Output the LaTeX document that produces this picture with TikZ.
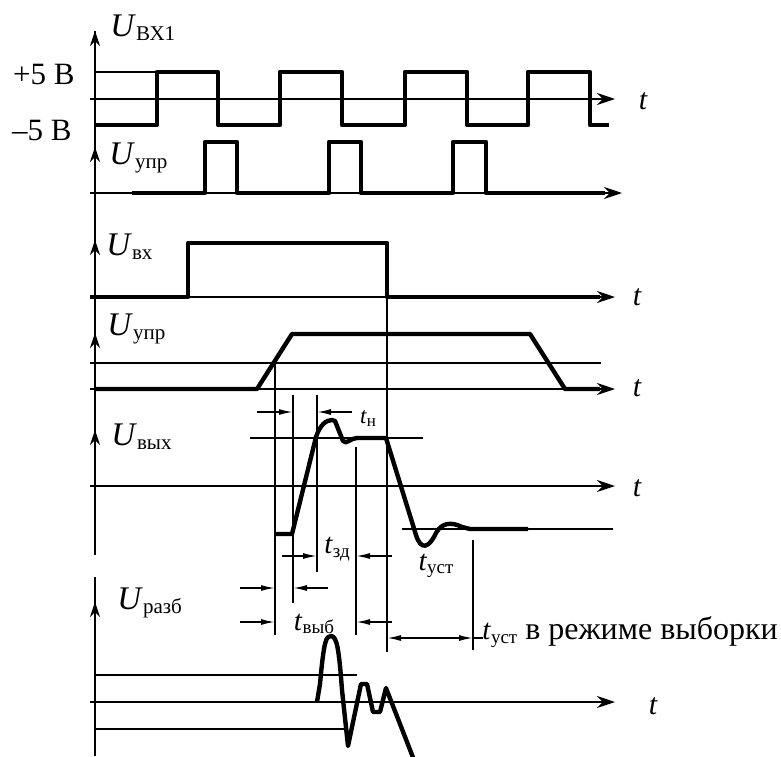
\documentclass[tikz,border=0pt]{standalone}
\usepackage{fontspec}
\setmainfont{Liberation Serif}
\usetikzlibrary{arrows.meta}

\newcommand{\usig}[2]{{\fontsize{16.5}{16.5}\selectfont\textit{#1}}\raisebox{-2pt}{\fontsize{10.5}{10.5}\selectfont #2}}
\newcommand{\tsig}[2]{{\fontsize{14.5}{14.5}\selectfont\textit{t}}\raisebox{-1.8pt}{\fontsize{9.5}{9.5}\selectfont #1}#2}

\begin{document}
\begin{tikzpicture}[x=0.5pt,y=-0.5pt,
  thinline/.style={line width=0.9pt},
  signal/.style={line width=2.2pt, line join=round},
  axis/.style={line width=0.9pt, -{Stealth[length=9pt,width=6pt]}},
  uparrow/.style={line width=0.9pt, -{Stealth[length=7.5pt,width=5pt]}},
  dimline/.style={line width=0.8pt, -{Latex[length=7pt,width=3pt]}},
  tlabel/.style={font=\fontsize{15}{15}\selectfont\itshape, inner sep=0pt}]
  \useasboundingbox (0,0) rectangle (781,756);

  % vertical axis
  \draw [thinline] (95,31) -- (95,555);
  \draw [thinline] (95,577) -- (95,756);
  \foreach \y in {31,147,240,333,430,602}
    \draw [uparrow] (95,\y+15) -- (95,\y);

  % U_BX1
  \draw [thinline] (95,72) -- (157,72);
  \draw [axis] (90,99) -- (615,99);
  \draw [signal] (95,125) -- (157,125) -- (157,72) -- (218,72) -- (218,125)
    -- (280,125) -- (280,72) -- (342,72) -- (342,125) -- (405,125) -- (405,72)
    -- (467,72) -- (467,125) -- (528,125) -- (528,72) -- (590,72) -- (590,125)
    -- (609,125);
  \node [anchor=west, inner sep=0pt] (ubx) at (110,28) {\usig{U}{ВХ1}};
  \node [anchor=east, inner sep=0pt, font=\fontsize{15.5}{15.5}\selectfont] (plus) at (75,74) {+5 В};
  \node [anchor=east, inner sep=0pt, font=\fontsize{15.5}{15.5}\selectfont] (minus) at (72,130) {–5 В};
  \node [tlabel] (t1) at (643,101) {t};

  % U_upr pulses
  \draw [axis] (90,193) -- (622,193);
  \draw [signal] (132,193) -- (205,193) -- (205,142) -- (237,142) -- (237,193)
    -- (329,193) -- (329,142) -- (361,142) -- (361,193) -- (453,193)
    -- (453,142) -- (486,142) -- (486,193) -- (605,193);
  \node [anchor=west, inner sep=0pt] (upr1) at (109,158) {\usig{U}{упр}};

  % U_vx
  \draw [axis] (90,297) -- (615,297);
  \draw [signal] (90,297) -- (188,297) -- (188,243) -- (387,243) -- (387,297) -- (600,297);
  \node [anchor=west, inner sep=0pt] (uvx) at (106,247) {\usig{U}{вх}};
  \node [tlabel] (t2) at (637,297) {t};

  % U_upr ramp
  \draw [thinline] (90,363) -- (601,363);
  \draw [axis] (90,389) -- (615,389);
  \draw [signal] (95,389) -- (257,389) -- (292,334) -- (530,334) -- (565,389) -- (600,389);
  \node [anchor=west, inner sep=0pt] (upr2) at (107,329) {\usig{U}{упр}};
  \node [tlabel] (t3) at (637,388) {t};

  % vertical marks
  \draw [thinline] (275,363) -- (275,635);
  \draw [thinline] (387,297) -- (387,652);
  \draw [thinline] (293,395) -- (293,603);
  \draw [thinline] (317,395) -- (317,572);
  \draw [thinline] (356,447) -- (356,635);
  \draw [thinline] (473,540) -- (473,650);

  % U_vyx
  \draw [thinline] (250,438) -- (423,438);
  \draw [axis] (90,486) -- (615,486);
  \draw [thinline] (402,529) -- (613,529);
  \draw [signal] (275,534) -- (292,534) -- (316,437)
    .. controls (320,425) and (326,420) .. (332,420) -- (335,421) -- (343,441)
    .. controls (347,445) and (350,438) .. (357,438) -- (386,438) -- (416,535)
    .. controls (421,551) and (429,548) .. (436,533)
    .. controls (442,522) and (452,522) .. (462,527) -- (470,529) -- (528,529);
  \node [anchor=west, inner sep=0pt] (uvyx) at (111,437) {\usig{U}{вых}};
  \node [tlabel] (t4) at (637,488) {t};

  % time intervals
  \draw [dimline] (257,412) -- (293,412);
  \draw [dimline] (352,412) -- (317,412);
  \node [inner sep=0pt] (tn) at (368,419) {\fontsize{11.5}{11.5}\selectfont\textit{t}\raisebox{-1.5pt}{\fontsize{8.5}{8.5}\selectfont н}};
  \draw [dimline] (282,556) -- (317,556);
  \draw [dimline] (392,556) -- (356,556);
  \node [inner sep=0pt] (tzd) at (337,549) {\tsig{зд}{}};
  \draw [dimline] (240,588) -- (275,588);
  \draw [dimline] (328,588) -- (293,588);
  \draw [dimline] (240,622) -- (275,622);
  \draw [dimline] (392,622) -- (356,622);
  \node [inner sep=0pt] (tvyb) at (314,624) {\tsig{выб}{}};
  \node [inner sep=0pt] (tust) at (436,566) {\tsig{уст}{}};
  \draw [dimline] (430,638) -- (387,638);
  \draw [dimline] (430,638) -- (473,638);
  \draw [thinline] (473,638) -- (483,638);
  \node [anchor=west, inner sep=0pt] (tust2) at (482,632)
    {\tsig{уст}{\fontsize{16}{16}\selectfont\ в режиме выборки}};

  % U_razb
  \draw [thinline] (95,675) -- (357,675);
  \draw [axis] (90,702) -- (615,702);
  \draw [thinline] (95,729) -- (346,729);
  \draw [signal] (317,702) -- (320,684) .. controls (324,640) and (326,636) .. (331,636)
    .. controls (337,636) and (339,650) .. (342,690) -- (348,746) -- (361,684)
    -- (367,684) -- (373,712) -- (380,712) -- (386,688) -- (414,760);
  \node [anchor=west, inner sep=0pt] (urazb) at (117,603) {\usig{U}{разб}};
  \node [tlabel] (t5) at (653,706) {t};
\end{tikzpicture}
\end{document}
